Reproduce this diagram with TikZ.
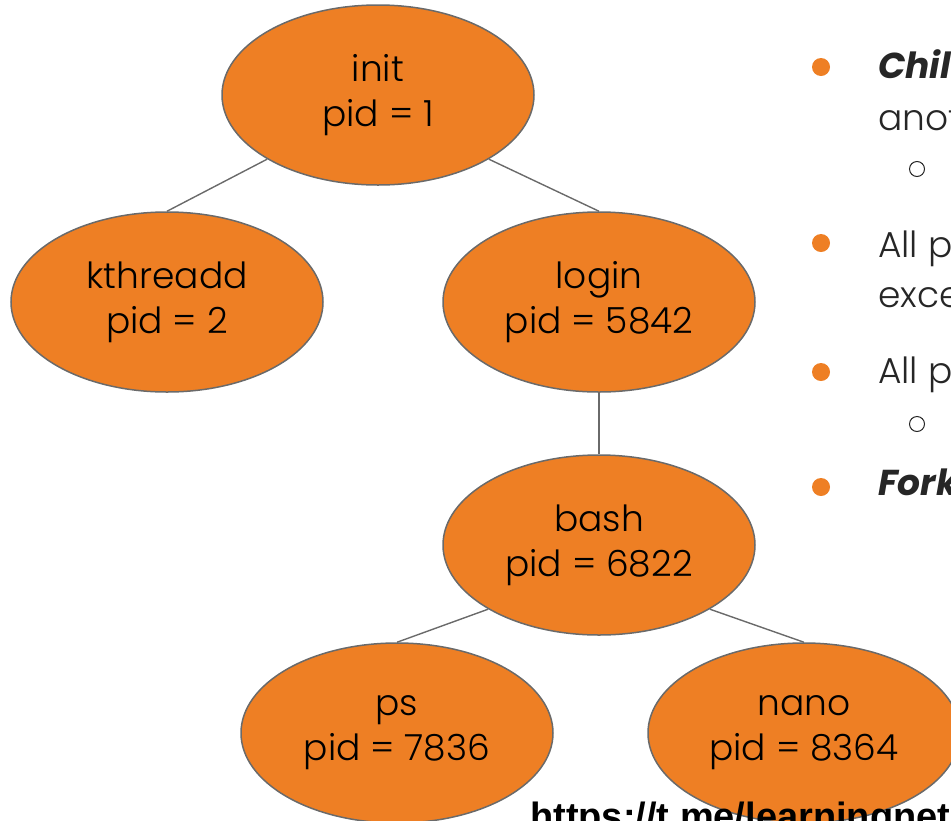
\documentclass[tikz,border=0pt]{standalone}
\usepackage{fontspec}
\newfontfamily\nodefont{Poppins Light}[BoldItalicFont={Poppins Bold Italic}]
\newfontfamily\urlfont{Liberation Sans}
\usetikzlibrary{shapes.geometric}
\definecolor{procorange}{HTML}{EE7F24}
\definecolor{edgegray}{HTML}{6A6A6A}
\definecolor{bodytext}{HTML}{262626}
\tikzset{
  proc/.style={ellipse, draw=edgegray, line width=1.5pt, fill=procorange,
    minimum width=312pt, minimum height=180pt, inner sep=0pt, align=center,
    font=\nodefont\fontsize{36}{45}\selectfont, text=black},
  link/.style={draw=edgegray, line width=1.4pt},
  bulletdot/.style={circle, fill=procorange, minimum size=18pt, inner sep=0pt},
  subdot/.style={circle, draw=bodytext, line width=1pt, minimum size=15pt, inner sep=0pt},
  bodyline/.style={anchor=base west, inner sep=0pt, text=bodytext,
    font=\nodefont\fontsize{36}{45}\selectfont},
}
\begin{document}
\begin{tikzpicture}[x=1pt,y=-1pt]
\useasboundingbox (0,0) rectangle (951,820);
\clip (0,0) rectangle (951,820);

% process tree
\node[proc] (init)     at (378,95)  {\raisebox{-2pt}{init}\\\raisebox{-2pt}{pid = 1}};
\node[proc] (kthreadd) at (167,302) {\raisebox{-2pt}{kthreadd}\\\raisebox{-2pt}{pid = 2}};
\node[proc] (login)    at (599,302) {\raisebox{-2pt}{login}\\\raisebox{-2pt}{pid = 5842}};
\node[proc] (bash)     at (599,545) {\raisebox{-2pt}{bash}\\\raisebox{-2pt}{pid = 6822}};
\node[proc] (ps)       at (397,733) {\raisebox{-2pt}{ps}\\\raisebox{-2pt}{pid = 7836}};
\node[proc] (nano)     at (804,733) {\raisebox{-2pt}{nano}\\\raisebox{-2pt}{pid = 8364}};

% parent-child links
\draw[link] (init.south west) -- (kthreadd.north);
\draw[link] (init.south east) -- (login.north);
\draw[link] (login.south) -- (bash.north);
\draw[link] (bash.south west) -- (ps.north);
\draw[link] (bash.south east) -- (nano.north);

% bullet list on the right
\node[bulletdot] (b1) at (821,67)  {};
\node[bulletdot] (b2) at (821,243) {};
\node[bulletdot] (b3) at (821,372) {};
\node[bulletdot] (b4) at (821,487) {};
\node[subdot]    (s1) at (917,169) {};
\node[subdot]    (s2) at (917,424) {};

\node[bodyline] (t1) at (878,78)  {\bfseries\itshape Child};
\node[bodyline] (t2) at (878,130) {anoth};
\node[bodyline] (t3) at (878,257) {All pr};
\node[bodyline] (t4) at (878,307) {excep};
\node[bodyline] (t5) at (878,383) {All pr};
\node[bodyline] (t6) at (878,495) {\bfseries\itshape Fork};

% link text along the bottom edge
\node[anchor=base west, inner sep=0pt, font=\urlfont\bfseries\fontsize{38}{42}\selectfont]
  (url) at (530,829) {https://t.me/learningnets};
\end{tikzpicture}
\end{document}
